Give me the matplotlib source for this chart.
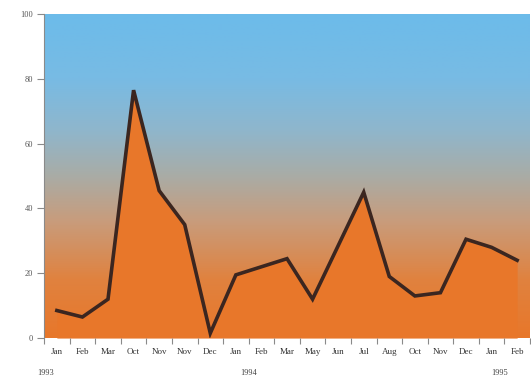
import numpy as np
import matplotlib.pyplot as plt
from matplotlib.colors import LinearSegmentedColormap

months = ['Jan', 'Feb', 'Mar', 'Oct', 'Nov', 'Nov', 'Dec', 'Jan', 'Feb', 'Mar',
          'May', 'Jun', 'Jul', 'Aug', 'Oct', 'Nov', 'Dec', 'Jan', 'Feb']
values = [8.5, 6.5, 12, 76.5, 45.5, 35, 1.5, 19.5, 22, 24.5,
          12, 28.5, 45, 19, 13, 14, 30.5, 28, 24]
years = ['1993', '1994', '1995']
year_pos = [-0.45, 7.5, 17.3]

fig = plt.figure(figsize=(5.31, 3.79), dpi=100)
ax = fig.add_axes([0.083, 0.108, 0.915, 0.855])

x = np.arange(len(values))
ax.set_xlim(-0.5, len(values) - 0.5)
ax.set_ylim(0, 100)

# vertical sky-to-orange backdrop
grad = LinearSegmentedColormap.from_list(
    'bg', [(0.0, '#e8772a'), (0.18, '#e0823f'), (0.36, '#c89c7c'),
           (0.5, '#a9aca6'), (0.64, '#8fb6cc'), (0.8, '#78bbe4'),
           (1.0, '#6cbbea')])
ax.imshow(np.linspace(0, 1, 256).reshape(-1, 1), cmap=grad, aspect='auto',
          origin='lower', extent=[-0.5, len(values) - 0.5, 0, 100], zorder=0)

ax.fill_between(x, values, 0, color='#e8772a', zorder=1, lw=0)
ax.plot(x, values, color='#3b2620', lw=2.6, zorder=2, solid_joinstyle='miter')

for s in ['top', 'right', 'bottom']:
    ax.spines[s].set_visible(False)
ax.spines['left'].set_color('#8a8a8a')
ax.spines['left'].set_linewidth(0.8)

ax.set_yticks([0, 20, 40, 60, 80, 100])
ax.set_yticklabels(['0', '20', '40', '60', '80', '100'],
                   family='Liberation Serif', fontsize=6, color='#555555')
ax.tick_params(axis='y', length=5, width=0.8, color='#8a8a8a', pad=3)

# tick marks between months, labels at the month centres
ax.set_xticks(np.arange(-0.5, len(values), 1))
ax.set_xticklabels([])
ax.tick_params(axis='x', which='major', length=4, width=0.8, color='#8a8a8a')
ax.set_xticks(x, minor=True)
ax.set_xticklabels(months, minor=True, family='Liberation Serif',
                   fontsize=6.5, color='#333333')
ax.tick_params(axis='x', which='minor', length=0, pad=7)

for yr, p in zip(years, year_pos):
    ax.text(p, -9.5, yr, ha='center', va='top', family='Liberation Serif',
            fontsize=6, color='#444444')

fig.savefig('out.png', dpi=100)
